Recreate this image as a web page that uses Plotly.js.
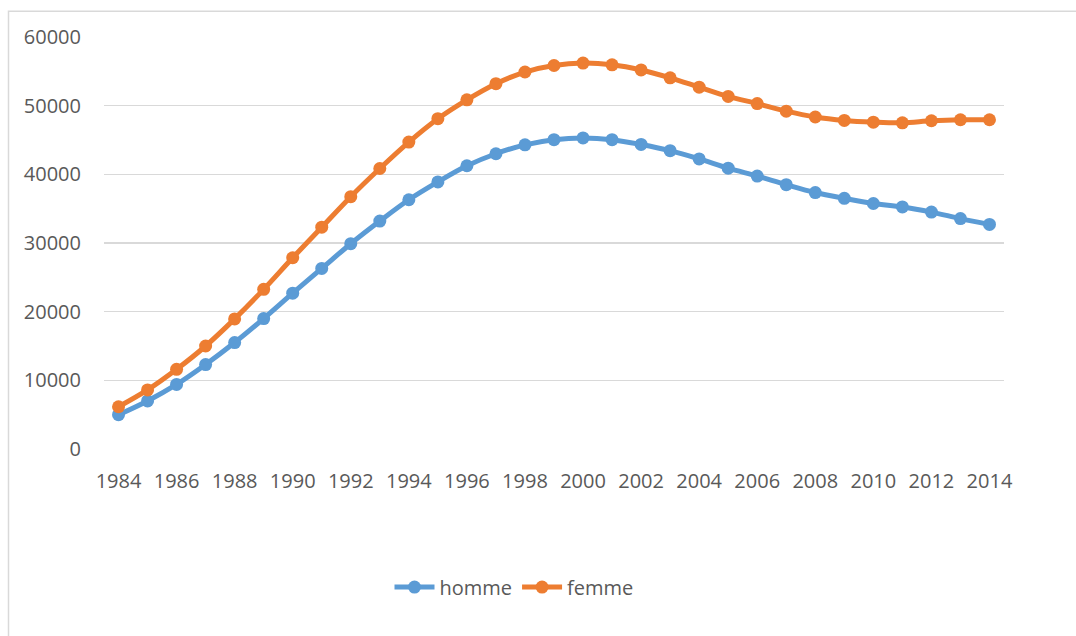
<!DOCTYPE html>
<html>
<head>
<meta charset="utf-8">
<script src="https://cdn.plot.ly/plotly-3.0.1.min.js"></script>
<style>
  html, body { margin: 0; padding: 0; background: #ffffff; }
  #chart { width: 1076px; height: 636px; }
</style>
</head>
<body>
<div id="chart"></div>
<script>
const years = [1984,1985,1986,1987,1988,1989,1990,1991,1992,1993,1994,1995,1996,1997,1998,1999,2000,2001,2002,2003,2004,2005,2006,2007,2008,2009,2010,2011,2012,2013,2014];
const homme = [5000,7000,9400,12300,15500,19000,22700,26300,29900,33200,36300,38900,41250,43000,44300,45050,45300,45050,44350,43450,42250,40900,39750,38500,37350,36500,35750,35250,34500,33550,32700];
const femme = [6150,8600,11600,15000,18950,23250,27850,32300,36750,40850,44700,48100,50850,53200,54900,55850,56200,55950,55200,54050,52700,51350,50300,49200,48350,47850,47600,47500,47800,47950,47950];
const seriesNames = ['homme', 'femme'];
const yTicks = [0,10000,20000,30000,40000,50000,60000];

const colors = ['#5B9BD5', '#ED7D31'];
const textColor = '#595959';
const fontFamily = '"Open Sans", "Noto Sans", "DejaVu Sans", sans-serif';

function mkTrace(name, ys, color) {
  return {
    x: years, y: ys, name: name, type: 'scatter', mode: 'lines+markers',
    line: { color: color, width: 5, shape: 'spline', smoothing: 1 },
    marker: { color: color, size: 13 },
    hoverinfo: 'x+y+name'
  };
}

const data = [mkTrace(seriesNames[0], homme, colors[0]), mkTrace(seriesNames[1], femme, colors[1])];

const plotL = 104, plotR = 1004, plotT = 37.3, plotB = 449;
const pw = plotR - plotL, ph = plotB - plotT;
const px = v => (v - plotL) / pw;
const py = v => (plotB - v) / ph;

const layout = {
  width: 1076, height: 636,
  margin: { l: plotL, r: 1076 - plotR, t: plotT, b: 636 - plotB, pad: 0 },
  paper_bgcolor: '#ffffff', plot_bgcolor: '#ffffff',
  font: { family: fontFamily, size: 20, color: textColor },
  showlegend: true,
  legend: {
    orientation: 'h', x: px(514), xanchor: 'center', y: py(587), yanchor: 'middle',
    font: { family: fontFamily, size: 20, color: textColor },
    itemwidth: 40, tracegroupgap: 0, bgcolor: 'rgba(0,0,0,0)'
  },
  xaxis: {
    range: [1983.5, 2014.5], tickmode: 'linear', tick0: 1984, dtick: 2,
    showgrid: false, zeroline: false, showline: false, ticks: '',
    ticklabelstandoff: 18,
    tickfont: { family: fontFamily, size: 20, color: textColor },
    fixedrange: true
  },
  yaxis: {
    range: [0, 60000], tickmode: 'array', tickvals: yTicks, ticktext: yTicks.map(String),
    showgrid: true, gridcolor: '#D9D9D9', gridwidth: 1.6,
    zeroline: false, showline: false, ticks: '',
    ticklabelstandoff: 22,
    tickfont: { family: fontFamily, size: 20, color: textColor },
    fixedrange: true
  },
  shapes: [
    {
      type: 'rect', xref: 'paper', yref: 'paper', layer: 'below',
      x0: px(8.5), x1: px(1090), y0: py(660), y1: py(11.5),
      line: { color: '#D9D9D9', width: 1.5 }, fillcolor: 'rgba(0,0,0,0)'
    }
  ]
};

Plotly.newPlot('chart', data, layout, { displayModeBar: false, staticPlot: true });
</script>
</body>
</html>
